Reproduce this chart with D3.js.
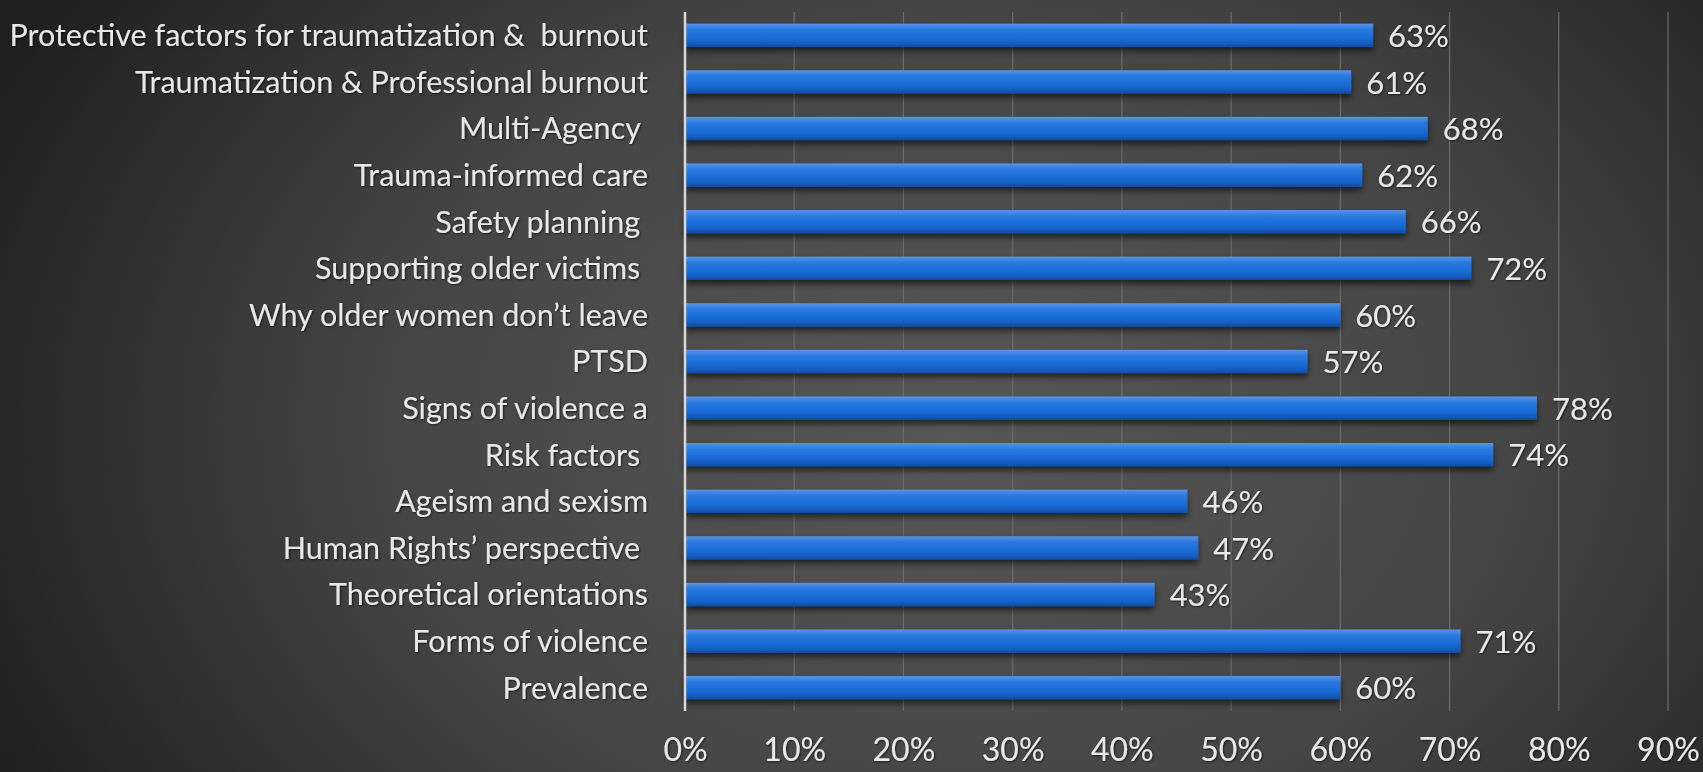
<!DOCTYPE html>
<html>
<head>
<meta charset="utf-8">
<script src="https://cdn.jsdelivr.net/npm/d3@7/dist/d3.min.js"></script>
<style>
  html, body { margin: 0; padding: 0; background: #2a2a2a; }
  svg { display: block; }
  text { white-space: pre; }
</style>
</head>
<body>
<svg id="chart" width="1703" height="772"></svg>
<script>
const categories = [
  "Protective factors for traumatization &  burnout",
  "Traumatization & Professional burnout",
  "Multi-Agency ",
  "Trauma-informed care",
  "Safety planning ",
  "Supporting older victims ",
  "Why older women don\u2019t leave",
  "PTSD",
  "Signs of violence a",
  "Risk factors ",
  "Ageism and sexism",
  "Human Rights\u2019 perspective ",
  "Theoretical orientations",
  "Forms of violence",
  "Prevalence"
];
const values = [0.63, 0.61, 0.68, 0.62, 0.66, 0.72, 0.60, 0.57, 0.78, 0.74, 0.46, 0.47, 0.43, 0.71, 0.60];
const xTicks = [0, 0.1, 0.2, 0.3, 0.4, 0.5, 0.6, 0.7, 0.8, 0.9];

const W = 1703, H = 772;
const svg = d3.select("#chart");
const defs = svg.append("defs");

// background gradient
const bg = defs.append("radialGradient").attr("id", "bg")
  .attr("cx", "0.56").attr("cy", "0.55").attr("r", "0.62")
  .attr("gradientTransform", "translate(0.56,0.55) scale(1,1.6) translate(-0.56,-0.55)");
bg.append("stop").attr("offset", "0%").attr("stop-color", "#575757");
bg.append("stop").attr("offset", "55%").attr("stop-color", "#444444");
bg.append("stop").attr("offset", "100%").attr("stop-color", "#202020");

// bar gradient
const bar = defs.append("linearGradient").attr("id", "barg")
  .attr("x1", 0).attr("y1", 0).attr("x2", 0).attr("y2", 1);
bar.append("stop").attr("offset", "0%").attr("stop-color", "#5a94e6");
bar.append("stop").attr("offset", "25%").attr("stop-color", "#2a7ae0");
bar.append("stop").attr("offset", "70%").attr("stop-color", "#1767d2");
bar.append("stop").attr("offset", "100%").attr("stop-color", "#0f4fa6");

const shadow = defs.append("filter").attr("id", "shadow")
  .attr("x", "-5%").attr("y", "-30%").attr("width", "110%").attr("height", "180%");
shadow.append("feDropShadow").attr("dx", 0).attr("dy", 4).attr("stdDeviation", 3)
  .attr("flood-color", "#000").attr("flood-opacity", 0.6);

const tshadow = defs.append("filter").attr("id", "tshadow");
tshadow.append("feDropShadow").attr("dx", 1).attr("dy", 1).attr("stdDeviation", 1)
  .attr("flood-color", "#000").attr("flood-opacity", 0.6);

svg.append("rect").attr("width", W).attr("height", H).attr("fill", "url(#bg)");

const x = d3.scaleLinear().domain([0, 0.9]).range([685, 1668]);
const y = d3.scaleBand().domain(categories).range([12, 711])
  .paddingInner(0.5).paddingOuter(0.25);

const font = "Lato, 'Open Sans', sans-serif";

// gridlines
svg.append("g").selectAll("line").data(xTicks.slice(1)).join("line")
  .attr("x1", d => x(d)).attr("x2", d => x(d))
  .attr("y1", 12).attr("y2", 711)
  .attr("stroke", "#6c6c6c").attr("stroke-width", 1.2);

// bars
svg.append("g").selectAll("rect").data(categories).join("rect")
  .attr("x", x(0))
  .attr("y", d => y(d))
  .attr("width", (d, i) => x(values[i]) - x(0))
  .attr("height", y.bandwidth())
  .attr("fill", "url(#barg)")
  .attr("filter", "url(#shadow)");

// axis line
svg.append("line").attr("x1", x(0)).attr("x2", x(0)).attr("y1", 12).attr("y2", 711)
  .attr("stroke", "#d8d8d8").attr("stroke-width", 2.5);

// category labels
const yAxis = d3.axisLeft(y).tickSize(0).tickPadding(37);
const ya = svg.append("g").attr("transform", `translate(${x(0)},0)`).call(yAxis);
ya.select(".domain").remove();
ya.selectAll("text")
  .attr("fill", "#e8e8e8")
  .attr("dy", "0.36em")
  .style("font-family", font)
  .style("font-size", "30.5px")
  .attr("filter", "url(#tshadow)");

// value labels
svg.append("g").selectAll("text").data(categories).join("text")
  .attr("x", (d, i) => x(values[i]) + 15)
  .attr("y", d => y(d) + y.bandwidth() / 2)
  .attr("dy", "0.38em")
  .attr("fill", "#e8e8e8")
  .style("font-family", font)
  .style("font-size", "31px")
  .attr("filter", "url(#tshadow)")
  .text((d, i) => Math.round(values[i] * 100) + "%");

// x axis labels
const xAxis = d3.axisBottom(x).tickValues(xTicks).tickSize(0).tickPadding(0)
  .tickFormat(d3.format(".0%"));
const xa = svg.append("g").attr("transform", "translate(0,747)").call(xAxis);
xa.select(".domain").remove();
xa.selectAll("text")
  .attr("fill", "#e8e8e8")
  .attr("dy", "0.45em")
  .style("font-family", font)
  .style("font-size", "32px")
  .attr("filter", "url(#tshadow)");
</script>
</body>
</html>
